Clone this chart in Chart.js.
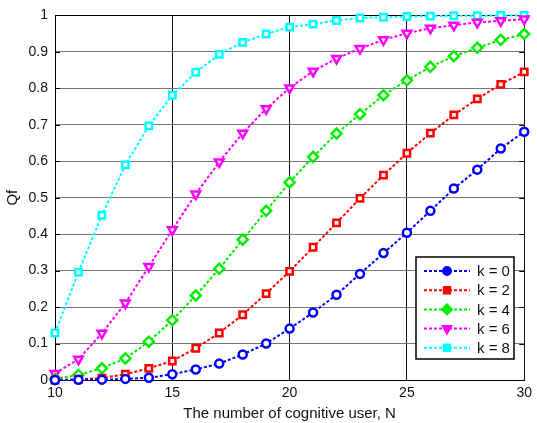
<!DOCTYPE html>
<html>
<head>
<meta charset="utf-8">
<script src="https://cdn.jsdelivr.net/npm/chart.js@4/dist/chart.umd.min.js"></script>
<style>
  html, body { margin: 0; padding: 0; background: #fff; }
</style>
</head>
<body>
<canvas id="c" width="537" height="423"></canvas>
<script>
// number of cognitive users N
const users = [10,11,12,13,14,15,16,17,18,19,20,21,22,23,24,25,26,27,28,29,30]

// Qf for each k
const qfK0 = [0,0.0005,0.001,0.003,0.006,0.016,0.029,0.045,0.07,0.1,0.141,0.185,0.234,0.291,0.348,0.404,0.464,0.525,0.577,0.635,0.681]
const qfK2 = [0,0.002,0.005,0.016,0.032,0.052,0.087,0.129,0.179,0.237,0.298,0.364,0.431,0.498,0.562,0.622,0.677,0.727,0.771,0.811,0.845]
const qfK4 = [0.003,0.014,0.032,0.059,0.105,0.164,0.232,0.305,0.385,0.464,0.542,0.612,0.676,0.729,0.781,0.822,0.859,0.888,0.911,0.933,0.949]
const qfK6 = [0.018,0.057,0.128,0.211,0.311,0.412,0.51,0.598,0.677,0.744,0.801,0.847,0.882,0.909,0.933,0.951,0.965,0.973,0.981,0.985,0.99]
const qfK8 = [0.129,0.296,0.452,0.59,0.697,0.781,0.844,0.893,0.926,0.949,0.968,0.976,0.986,0.993,0.995,0.997,0.998,0.999,0.999,1,1]

const seriesLabels = ["k = 0", "k = 2", "k = 4", "k = 6", "k = 8"]
const xTicks = [10, 15, 20, 25, 30]
const yTicks = [0, 0.1, 0.2, 0.3, 0.4, 0.5, 0.6, 0.7, 0.8, 0.9, 1]

const FONT = "'Liberation Sans', Arial, sans-serif"

const styles = [
    {color: "#0000ff", pointStyle: "circle", rotation: 0, radius: 4},
    {color: "#ff0000", pointStyle: "rect", rotation: 0, radius: 4.5},
    {color: "#00ee00", pointStyle: "rectRot", rotation: 0, radius: 5},
    {color: "#ff00ff", pointStyle: "triangle", rotation: 180, radius: 5},
    {color: "#00ffff", pointStyle: "rect", rotation: 0, radius: 4.5}
]

const allSeries = [qfK0, qfK2, qfK4, qfK6, qfK8]

const datasets = allSeries.map((values, i) => ({
    label: seriesLabels[i],
    data: values.map((v, j) => ({x: users[j], y: v})),
    borderColor: styles[i].color,
    borderWidth: 2,
    borderDash: [3, 2],
    pointStyle: styles[i].pointStyle,
    pointRotation: styles[i].rotation,
    pointRadius: styles[i].radius,
    pointBorderWidth: 2.5,
    pointBorderColor: styles[i].color,
    pointBackgroundColor: "#fff",
    fill: false,
    tension: 0,
    clip: false
}))

// short black ticks on the inside of the left axis, as in matlab
const innerTicks = {
    id: "innerTicks",
    beforeDatasetsDraw(chart) {
        const ctx = chart.ctx
        const a = chart.chartArea
        const ys = chart.scales.y
        ctx.save()
        ctx.strokeStyle = "#000"
        ctx.lineWidth = 1
        yTicks.forEach(v => {
            const y = Math.round(ys.getPixelForValue(v)) + 0.5
            ctx.beginPath()
            ctx.moveTo(a.left, y)
            ctx.lineTo(a.left + 5, y)
            ctx.moveTo(a.right, y)
            ctx.lineTo(a.right - 5, y)
            ctx.stroke()
        })
        ctx.restore()
    }
}

// legend box drawn inside the axes, like the original
const boxLegend = {
    id: "boxLegend",
    afterDraw(chart) {
        const ctx = chart.ctx
        const left = 416, top = 257, right = 514, bottom = 359
        ctx.save()
        ctx.fillStyle = "#fff"
        ctx.fillRect(left, top, right - left, bottom - top)
        ctx.strokeStyle = "#000"
        ctx.lineWidth = 1.5
        ctx.strokeRect(left, top, right - left, bottom - top)
        ctx.font = "15px " + FONT
        ctx.textBaseline = "middle"
        chart.data.datasets.forEach((ds, i) => {
            const y = 271 + i * 19.2
            ctx.strokeStyle = ds.borderColor
            ctx.lineWidth = 2
            ctx.setLineDash([3, 2])
            ctx.beginPath()
            ctx.moveTo(424, y)
            ctx.lineTo(470, y)
            ctx.stroke()
            ctx.setLineDash([])
            ctx.fillStyle = ds.borderColor
            Chart.helpers.drawPoint(ctx, {
                pointStyle: ds.pointStyle,
                rotation: ds.pointRotation,
                radius: ds.pointRadius,
                borderWidth: 2
            }, 447, y)
            ctx.fillStyle = "#111"
            ctx.fillText(ds.label, 477, y + 1)
        })
        ctx.restore()
    }
}

new Chart(document.getElementById("c"), {
    type: "line",
    data: {datasets: datasets},
    plugins: [innerTicks, boxLegend],
    options: {
        responsive: false,
        animation: false,
        devicePixelRatio: 1,
        layout: {padding: {left: 0, right: 7, top: 14, bottom: 0}},
        plugins: {legend: {display: false}, tooltip: {enabled: false}},
        scales: {
            x: {
                type: "linear",
                min: 10,
                max: 30,
                afterBuildTicks: s => { s.ticks = xTicks.map(v => ({value: v})) },
                afterFit: s => { s.height = 43 },
                grid: {color: "#111", lineWidth: 1, drawTicks: false},
                border: {color: "#000", width: 1},
                ticks: {color: "#111", font: {family: FONT, size: 14}, padding: 5, maxRotation: 0},
                title: {display: true, text: "The number of cognitive user, N", color: "#111",
                        font: {family: FONT, size: 15}, padding: {top: 0, bottom: 0}}
            },
            y: {
                min: 0,
                max: 1,
                afterBuildTicks: s => { s.ticks = yTicks.map(v => ({value: v})) },
                afterFit: s => { s.width = 55 },
                grid: {color: ctx => ctx.tick && (ctx.tick.value === 0 || ctx.tick.value === 1) ? "#000" : "#777",
                       lineWidth: 1, drawTicks: false},
                border: {color: "#000", width: 1},
                ticks: {color: "#111", font: {family: FONT, size: 14}, padding: 7,
                        callback: v => String(+v.toFixed(1))},
                title: {display: true, text: "Qf", color: "#111",
                        font: {family: FONT, size: 15}, padding: {top: 4, bottom: 2}}
            }
        }
    }
})
</script>
</body>
</html>
